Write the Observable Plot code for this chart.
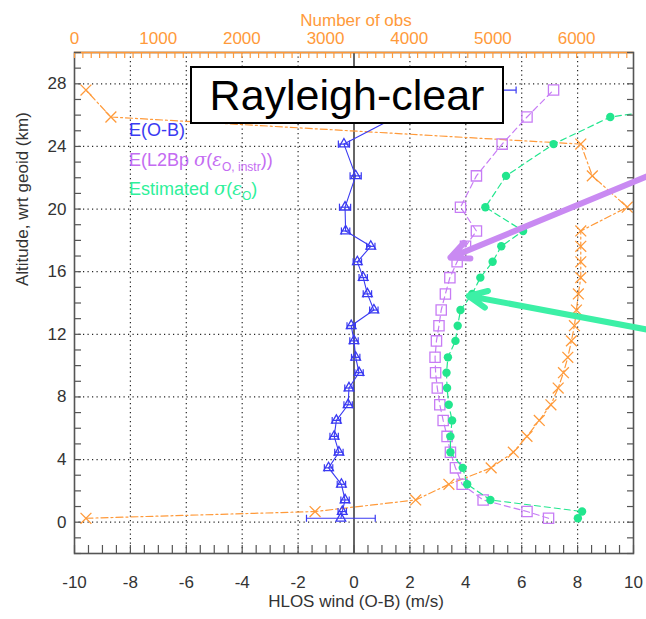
<!DOCTYPE html>
<html><head><meta charset="utf-8">
<script src="https://cdn.jsdelivr.net/npm/d3@7"></script>
<script src="https://cdn.jsdelivr.net/npm/@observablehq/plot@0.6"></script>
<style>
body{margin:0;background:#fff;font-family:"Liberation Sans",Arial,sans-serif;}
#wrap{position:relative;width:646px;height:619px;overflow:hidden;}
#wrap svg{position:absolute;left:0;top:0;}
.leg{position:absolute;left:129px;font-size:18px;line-height:18px;white-space:nowrap;}
.leg i{font-family:"DejaVu Serif","Liberation Serif",serif;font-style:italic;}
.leg sub{font-size:12px;vertical-align:-5px;line-height:0;}
#box{position:absolute;left:190px;top:66px;width:310px;height:54px;border:2px solid #000;background:#fff;
 font-size:43px;line-height:54px;text-align:center;color:#000;}
</style></head><body><div id="wrap"></div>
<script>
// ---- data ----
const altitude   = [0.25, 0.68, 1.42, 2.42, 3.47, 4.47, 5.48, 6.5, 7.5, 8.57, 9.55, 10.53, 11.58, 12.55, 13.55, 14.58, 15.62, 16.63, 17.62, 18.6, 20.12, 22.12, 24.15, 25.88, 27.6];
const meanOmB    = [-0.47, -0.42, -0.32, -0.45, -0.91, -0.54, -0.71, -0.63, -0.21, -0.18, 0.18, 0.06, 0.0, -0.1, 0.71, 0.48, 0.33, 0.12, 0.6, -0.3, -0.32, 0.06, -0.36, 1.5, 1.5];
const meanOmBErr = [1.23, 0.15, 0.15, 0.15, 0.15, 0.15, 0.15, 0.15, 0.15, 0.15, 0.15, 0.15, 0.15, 0.15, 0.15, 0.15, 0.15, 0.15, 0.15, 0.15, 0.2, 0.2, 0.2, 0.5, 4.3];
const l2bpSigma  = [6.96, 6.19, 4.62, 3.87, 3.63, 3.45, 3.33, 3.19, 3.07, 2.98, 2.92, 2.9, 2.95, 3.04, 3.12, 3.27, 3.43, 3.69, 3.99, 4.38, 3.81, 4.38, 5.3, 6.19, 7.14];
const estSigma   = [8.01, 8.16, 4.88, 4.05, 3.89, 3.45, 3.45, 3.51, 3.39, 3.33, 3.31, 3.36, 3.63, 3.71, 3.81, 4.23, 4.52, 4.96, 5.27, 6.05, 4.7, 5.44, 7.14, 9.17, 16];
const numObs     = [137, 2875, 4077, 4474, 4979, 5244, 5407, 5554, 5693, 5780, 5843, 5895, 5938, 5974, 5998, 6021, 6050, 6050, 6050, 6050, 6605, 6188, 6050, 435, 137];

const xTicks   = [-10, -8, -6, -4, -2, 0, 2, 4, 6, 8, 10];
const yTicks   = [0, 4, 8, 12, 16, 20, 24, 28];
const obsTicks = [0, 1000, 2000, 3000, 4000, 5000, 6000];
const xDomain  = [-10, 10];
const yDomain  = [-2, 30];
const obsDomain = [0, 6680];

const xTitle = "HLOS wind (O-B) (m/s)";
const yTitle = "Altitude, wrt geoid (km)";
const topTitle = "Number of obs";
const panelLabel = "Rayleigh-clear";

// annotation arrows (tail -> tip), in data units
const purpleArrow = [{x1: 10.5, y1: 22.1, x2: 3.45, y2: 16.9}];
const greenArrow  = [{x1: 10.5, y1: 12.3, x2: 4.1,  y2: 14.45}];

// ---- build ----
const rows = altitude.map((a, i) => ({
  alt: a, omb: meanOmB[i], err: meanOmBErr[i], l2bp: l2bpSigma[i], est: estSigma[i], obs: numObs[i]
}));
const obsToX = d3.scaleLinear(obsDomain, xDomain);

const BLUE = "#3a3af2", PURPLE = "#c77cf5", GREEN = "#22e68e", ORANGE = "#ff9a3a", AXIS = "#555";
const capSymbol = {draw(ctx, size) { const h = Math.sqrt(size); ctx.moveTo(0, -h / 2); ctx.lineTo(0, h / 2); }};
const blank = () => "";

const plot = Plot.plot({
  width: 646, height: 619,
  marginLeft: 74, marginRight: 13, marginTop: 52, marginBottom: 66,
  x: {domain: xDomain},
  y: {domain: yDomain},
  style: {fontFamily: "'Liberation Sans', Arial, sans-serif", fontSize: "17px", background: "transparent", overflow: "visible"},
  marks: [
    Plot.gridX(xTicks.filter(d => d > xDomain[0] && d < xDomain[1]), {stroke: "#000", strokeOpacity: 0.85, strokeDasharray: "1.2,3.3", strokeWidth: 1.2}),
    Plot.gridY(yTicks, {stroke: "#000", strokeOpacity: 0.85, strokeDasharray: "1.2,3.3", strokeWidth: 1.2}),
    Plot.ruleX([0], {stroke: "#666", strokeWidth: 2}),
    // number of obs (top axis)
    Plot.line(rows, {x: d => obsToX(d.obs), y: "alt", stroke: ORANGE, strokeWidth: 1.2, strokeDasharray: "7,3,2,3", clip: true}),
    Plot.dot(rows, {x: d => obsToX(d.obs), y: "alt", symbol: "times", r: 5, stroke: ORANGE, strokeWidth: 1.3, clip: true}),
    // L2Bp sigma
    Plot.line(rows, {x: "l2bp", y: "alt", stroke: PURPLE, strokeWidth: 1.2, strokeDasharray: "6,4", clip: true}),
    Plot.dot(rows, {x: "l2bp", y: "alt", symbol: "square", r: 5.8, stroke: PURPLE, fill: "none", strokeWidth: 1.3, clip: true}),
    // estimated sigma
    Plot.line(rows, {x: "est", y: "alt", stroke: GREEN, strokeWidth: 1.2, strokeDasharray: "6,4", clip: true}),
    Plot.dot(rows, {x: "est", y: "alt", r: 4.2, fill: GREEN, stroke: "none", clip: true}),
    // E(O-B)
    Plot.link(rows, {x1: d => d.omb - d.err, x2: d => d.omb + d.err, y1: "alt", y2: "alt", stroke: BLUE, strokeWidth: 1.2, clip: true}),
    Plot.dot(rows, {x: d => d.omb - d.err, y: "alt", symbol: capSymbol, r: 4, stroke: BLUE, strokeWidth: 1.2, clip: true}),
    Plot.dot(rows, {x: d => d.omb + d.err, y: "alt", symbol: capSymbol, r: 4, stroke: BLUE, strokeWidth: 1.2, clip: true}),
    Plot.line(rows, {x: "omb", y: "alt", stroke: BLUE, strokeWidth: 1.1, clip: true}),
    Plot.dot(rows, {x: "omb", y: "alt", symbol: "triangle", r: 3.6, stroke: BLUE, fill: "none", strokeWidth: 1.3, clip: true}),
    // frame
    Plot.frame({stroke: AXIS, strokeWidth: 1.6}),
    Plot.ruleY([yDomain[1]], {stroke: ORANGE, strokeWidth: 1.6}),
    // bottom axis
    Plot.axisX(xTicks, {anchor: "bottom", tickSize: 0, tickPadding: 22, tickFormat: d => String(d), color: "#333", fontSize: 17, label: null}),
    Plot.axisX(d3.range(xDomain[0], xDomain[1] + 0.01, 0.5), {anchor: "bottom", tickSize: 8, dy: -8, tickFormat: blank, color: AXIS, strokeWidth: 1.2, label: null}),
    // top axis (number of obs)
    Plot.axisX(obsTicks.map(obsToX), {anchor: "top", tickSize: 0, tickPadding: 9, tickFormat: v => String(Math.round(obsToX.invert(v))), color: ORANGE, fontSize: 17, label: null}),
    Plot.axisX(d3.range(obsDomain[0], obsDomain[1], 100).map(obsToX), {anchor: "top", tickSize: 5, dy: 5, tickFormat: blank, color: ORANGE, strokeWidth: 1.2, label: null}),
    // left / right axes
    Plot.axisY(yTicks, {anchor: "left", tickSize: 0, tickPadding: 8, tickFormat: d => String(d), color: "#333", fontSize: 17, label: null}),
    Plot.axisY(d3.range(yDomain[0], yDomain[1] + 0.01, 1), {anchor: "left", tickSize: 7, dx: 7, tickFormat: blank, color: AXIS, strokeWidth: 1.2, label: null}),
    Plot.axisY(d3.range(yDomain[0], yDomain[1] + 0.01, 1), {anchor: "right", tickSize: 7, dx: -7, tickFormat: blank, color: AXIS, strokeWidth: 1.2, label: null}),
    // titles
    Plot.text([xTitle], {frameAnchor: "bottom", dy: 53, fill: "#333", fontSize: 17, dx: 2}),
    Plot.text([topTitle], {frameAnchor: "top", dy: -39, fill: ORANGE, fontSize: 17, dx: 2}),
    Plot.text([yTitle], {frameAnchor: "left", rotate: -90, dx: -52, dy: -17, fill: "#333", fontSize: 17}),
    // annotation arrows
    Plot.arrow(purpleArrow, {x1: "x1", y1: "y1", x2: "x2", y2: "y2", stroke: "#c98af2", strokeWidth: 6, headLength: 5, headAngle: 50}),
    Plot.arrow(greenArrow, {x1: "x1", y1: "y1", x2: "x2", y2: "y2", stroke: "#3cf0a6", strokeWidth: 6, headLength: 5, headAngle: 50})
  ]
});

const wrap = document.getElementById("wrap");
wrap.appendChild(plot);

const legend = [
  {top: 121, color: BLUE, html: "E(O-B)"},
  {top: 151, color: "#c46cf2", html: "E(L2Bp <i>σ</i>(<i>ε</i><sub>O, instr</sub>))"},
  {top: 180, color: "#2ef09a", html: "Estimated <i>σ</i>(<i>ε</i><sub>O</sub>)"}
];
for (const l of legend) {
  const d = document.createElement("div");
  d.className = "leg"; d.style.top = l.top + "px"; d.style.color = l.color; d.innerHTML = l.html;
  wrap.appendChild(d);
}
const box = document.createElement("div");
box.id = "box"; box.textContent = panelLabel;
wrap.appendChild(box);
</script>
</body></html>
